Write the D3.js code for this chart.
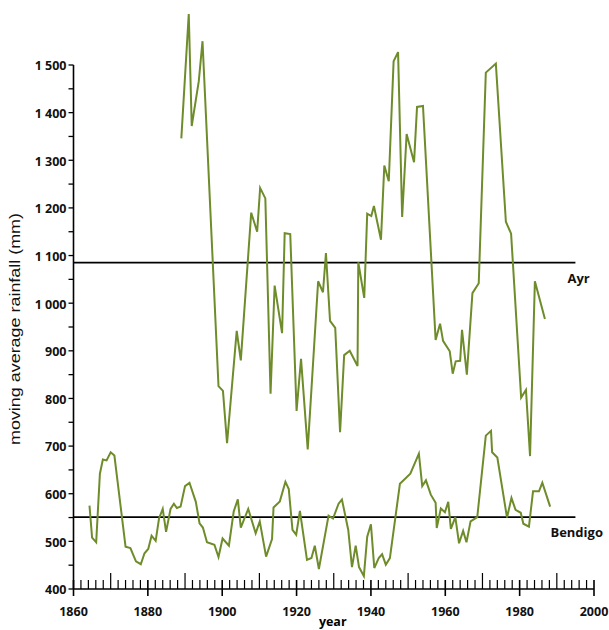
<!DOCTYPE html>
<html><head><meta charset="utf-8">
<script src="https://cdn.jsdelivr.net/npm/d3@7/dist/d3.min.js"></script>
<style>
html,body{margin:0;padding:0;background:#fff;}
svg{display:block;}
.tick-label{font-family:"Open Sans",Lato,sans-serif;font-weight:700;font-size:12.5px;fill:#111;}
</style></head>
<body>
<script>
// ---- data ----
const ayrYears = [1889.0,1891.0,1891.8,1893.7,1894.7,1899.0,1900.2,1901.3,1903.9,1905.0,1907.8,1909.4,1910.2,1911.6,1913.0,1914.1,1916.1,1916.8,1918.3,1920.0,1921.2,1923.0,1925.8,1927.1,1927.9,1929.0,1930.4,1931.7,1932.8,1934.3,1936.4,1936.6,1938.2,1939.0,1940.1,1940.8,1942.7,1943.6,1944.8,1946.1,1947.3,1948.4,1949.6,1951.6,1952.4,1954.0,1957.4,1958.6,1959.4,1961.2,1962.0,1962.8,1964.0,1964.5,1965.8,1967.3,1969.0,1970.9,1973.6,1976.3,1977.7,1980.4,1981.7,1982.8,1984.1,1986.8];
const ayrValues = [1346,1607,1372,1466,1550,826,816,706,942,880,1190,1150,1242,1220,810,1037,937,1147,1145,774,883,693,1046,1023,1105,963,948,729,891,900,868,1086,1011,1188,1183,1204,1133,1289,1256,1508,1527,1181,1355,1296,1412,1414,923,957,921,899,852,878,879,944,850,1021,1042,1484,1503,1171,1146,802,818,679,1046,967];

const bendigoYears = [1864.3,1865.0,1866.1,1867.1,1867.9,1868.9,1870.0,1871.0,1874.0,1875.3,1876.8,1878.1,1879.1,1880.1,1881.0,1882.1,1883.0,1884.0,1884.9,1886.1,1887.0,1887.8,1888.8,1890.0,1891.2,1892.9,1893.9,1894.8,1895.9,1897.9,1899.0,1900.1,1901.8,1903.1,1904.2,1905.0,1907.0,1909.0,1910.1,1911.8,1913.4,1913.8,1915.5,1917.0,1917.9,1918.9,1919.9,1920.9,1922.8,1924.0,1924.9,1926.0,1928.6,1929.8,1931.3,1932.2,1933.9,1934.9,1935.9,1936.8,1938.1,1939.0,1940.0,1940.9,1942.1,1943.0,1944.0,1945.1,1947.8,1950.6,1952.9,1953.8,1954.8,1956.1,1957.4,1957.7,1958.8,1959.9,1960.8,1961.5,1962.7,1963.7,1964.8,1965.7,1966.8,1968.6,1970.9,1972.3,1972.6,1974.0,1976.6,1977.8,1978.9,1980.3,1981.0,1982.5,1983.6,1985.2,1986.1,1988.2];
const bendigoValues = [575,508,498,642,672,670,687,680,489,486,458,452,475,484,512,501,548,568,520,568,579,570,573,616,623,583,538,529,498,493,467,506,491,563,588,529,568,517,542,468,505,571,584,625,610,524,514,564,461,465,491,442,554,548,579,588,524,446,491,446,427,510,536,444,465,473,451,465,621,642,684,616,628,598,581,528,569,561,583,526,551,496,522,498,542,551,722,732,687,676,550,591,566,560,537,531,605,605,623,573];

const seriesNames = ["Ayr","Bendigo"];
const referenceValues = [1085, 551];      // long-term averages
const referenceEndYear = 1995;

const yTickValues = [400,500,600,700,800,900,1000,1100,1200,1300,1400,1500];
const yTickLabels = ["400","500","600","700","800","900","1 000","1 100","1 200","1 300","1 400","1 500"];
const xTickValues = [1860,1880,1900,1920,1940,1960,1980,2000];
const xTickLabels = ["1860","1880","1900","1920","1940","1960","1980","2000"];

// ---- drawing ----
const W = 609, H = 630;
const svg = d3.select("body").append("svg").attr("width", W).attr("height", H);

const x = d3.scaleLinear().domain([1860, 2000]).range([73.5, 594]);
const y = d3.scaleLinear().domain([400, 1500]).range([589, 65]);

const green = "#6f8c2b";

// y axis
const yAxisG = svg.append("g");
yAxisG.append("line").attr("x1", x(1860)).attr("x2", x(1860))
  .attr("y1", y(400)).attr("y2", y(1500)).attr("stroke", "#000").attr("stroke-width", 1.6);
d3.range(400, 1501, 50).forEach(v => {
  yAxisG.append("line").attr("x1", x(1860) - 5).attr("x2", x(1860))
    .attr("y1", y(v)).attr("y2", y(v)).attr("stroke", "#000").attr("stroke-width", 1.3);
});
yTickValues.forEach((v, i) => {
  yAxisG.append("text").attr("class", "tick-label")
    .attr("x", x(1860) - 7).attr("y", y(v) + 1).attr("dy", "0.35em")
    .attr("text-anchor", "end").text(yTickLabels[i]);
});

// x axis
const xAxisG = svg.append("g");
xAxisG.append("line").attr("x1", x(1860)).attr("x2", x(2000))
  .attr("y1", y(400)).attr("y2", y(400)).attr("stroke", "#000").attr("stroke-width", 1.6);
d3.range(1860, 2001, 2).forEach(yr => {
  let up = 9, down = 0;
  if (yr % 20 === 0) { up = 9; down = 7; }
  else if (yr % 10 === 0) { up = 16; down = 0; }
  xAxisG.append("line").attr("x1", x(yr)).attr("x2", x(yr))
    .attr("y1", y(400) - up).attr("y2", y(400) + down)
    .attr("stroke", "#000").attr("stroke-width", yr % 20 === 0 ? 1.6 : 1.2);
});
xTickValues.forEach((v, i) => {
  xAxisG.append("text").attr("class", "tick-label")
    .attr("x", x(v)).attr("y", 616).attr("text-anchor", "middle").text(xTickLabels[i]);
});

// axis titles
svg.append("text").attr("x", (x(1860) + x(2000)) / 2 - 1).attr("y", 626)
  .attr("text-anchor", "middle")
  .style("font-family", "'Open Sans',Lato,sans-serif").style("font-weight", 700).style("font-size", "12.5px")
  .text("year");
svg.append("text")
  .attr("transform", `translate(20,${(y(400) + y(1500)) / 2 + 2}) rotate(-90)`)
  .attr("text-anchor", "middle")
  .attr("textLength", 232).attr("lengthAdjust", "spacingAndGlyphs")
  .style("font-family", "'Liberation Sans',Arial,sans-serif").style("font-size", "15.5px")
  .style("fill", "#111")
  .text("moving average rainfall (mm)");

// reference lines
referenceValues.forEach((v, i) => {
  svg.append("line").attr("x1", x(1860)).attr("x2", x(referenceEndYear))
    .attr("y1", y(v)).attr("y2", y(v)).attr("stroke", "#000").attr("stroke-width", 1.8);
  svg.append("text").attr("x", x(referenceEndYear) + (i === 0 ? -8 : -25)).attr("y", y(v) + 20)
    .style("font-family", "'Open Sans',Lato,sans-serif").style("font-weight", 700).style("font-size", "13px")
    .style("fill", "#111")
    .text(seriesNames[i]);
});

// series lines
const line = d3.line().x(d => x(d[0])).y(d => y(d[1]));
const ayr = ayrYears.map((yr, i) => [yr, ayrValues[i]]);
const bendigo = bendigoYears.map((yr, i) => [yr, bendigoValues[i]]);
[ayr, bendigo].forEach(data => {
  svg.append("path").datum(data).attr("d", line)
    .attr("fill", "none").attr("stroke", green).attr("stroke-width", 2).attr("stroke-linejoin", "miter");
});
</script>
</body></html>
